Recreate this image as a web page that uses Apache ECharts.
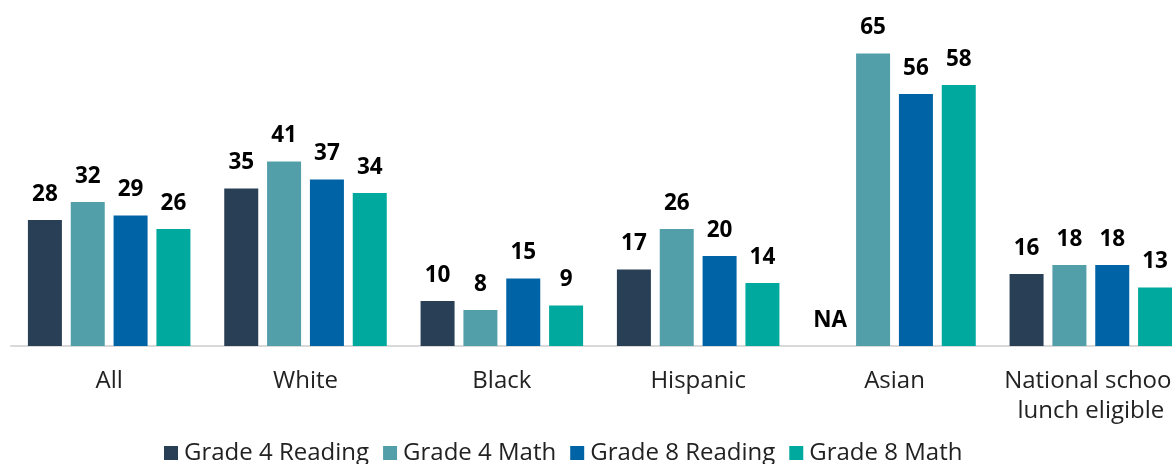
<!DOCTYPE html>
<html>
<head>
<meta charset="utf-8">
<script src="https://cdn.jsdelivr.net/npm/echarts@6/dist/echarts.min.js"></script>
<style>
  html, body { margin: 0; padding: 0; background: #fff; overflow: hidden; }
  #chart { width: 1190px; height: 464px; }
</style>
</head>
<body>
<div id="chart"></div>
<script>
const categories = ['All', 'White', 'Black', 'Hispanic', 'Asian', 'National school\nlunch eligible'];
const seriesNames = ['Grade 4 Reading', 'Grade 4 Math', 'Grade 8 Reading', 'Grade 8 Math'];
const grade4Reading = [28, 35, 10, 17, null, 16];
const grade4Math = [32, 41, 8, 26, 65, 18];
const grade8Reading = [29, 37, 15, 20, 56, 18];
const grade8Math = [26, 34, 9, 14, 58, 13];
const colors = ['#283f55', '#529faa', '#0063a6', '#00a99d'];

const chart = echarts.init(document.getElementById('chart'), null, { renderer: 'canvas' });

// missing values are drawn as a zero-height bar labelled NA
const toData = (arr) => arr.map(v => v == null
  ? { value: 0, label: { formatter: 'NA' } }
  : v);

const allSeries = [grade4Reading, grade4Math, grade8Reading, grade8Math].map((arr, i) => ({
  name: seriesNames[i],
  type: 'bar',
  data: toData(arr),
  barWidth: 34,
  barGap: '26%',
  itemStyle: { color: colors[i] },
  label: {
    show: true,
    position: 'top',
    distance: 14,
    color: '#000',
    fontFamily: 'Open Sans',
    fontWeight: 'bold',
    fontSize: 22.5
  },
  emphasis: { disabled: true }
}));

chart.setOption({
  animation: false,
  textStyle: { fontFamily: 'Open Sans' },
  color: colors,
  legend: {
    left: 164,
    top: 441,
    padding: 0,
    itemWidth: 14,
    itemHeight: 14,
    itemGap: 14,
    icon: 'rect',
    textStyle: { fontSize: 24, color: '#222', fontFamily: 'Open Sans', padding: [0, 0, 0, 1] },
    data: seriesNames
  },
  grid: { left: 11, right: 1, top: 31, bottom: 118 },
  xAxis: {
    type: 'category',
    data: categories,
    axisLine: { lineStyle: { color: '#d9d9d9', width: 2 } },
    axisTick: { show: false },
    axisLabel: {
      fontSize: 24,
      color: '#222',
      fontFamily: 'Open Sans',
      lineHeight: 30,
      margin: 20,
      interval: 0
    }
  },
  yAxis: {
    type: 'value',
    min: 0,
    max: 70,
    show: false,
    splitLine: { show: false }
  },
  series: allSeries
});
</script>
</body>
</html>
